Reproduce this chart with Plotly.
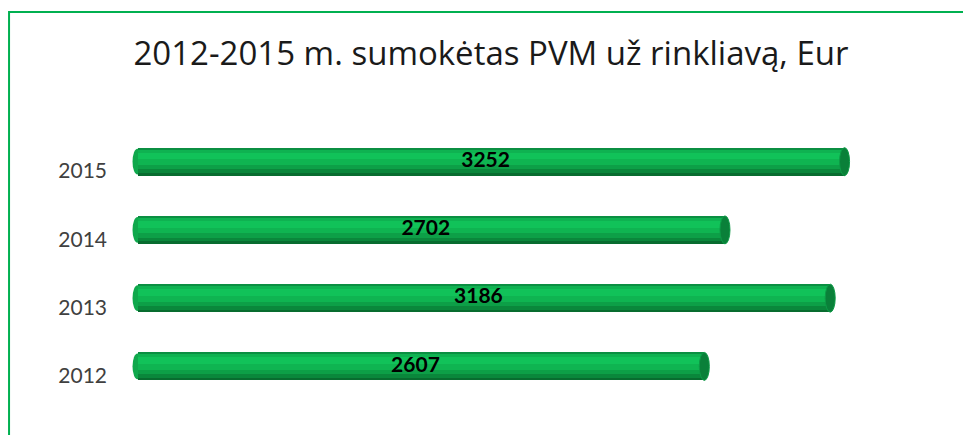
import plotly.graph_objects as go

years = ["2012", "2013", "2014", "2015"]
values = [2607, 3186, 2702, 3252]
title_text = "2012-2015 m. sumokėtas PVM už rinkliavą, Eur"

pos = list(range(len(years)))

W = 0.41          # bar thickness in category units
SHIFT = 0.139     # 3D lift of bar above the category label
BOTTOM = SHIFT - W / 2

# vertical shading layers (fraction from bottom, fraction to, colour), drawn in order
bands = [
    (0.00, 1.00, "#0b8f42"),
    (0.00, 0.93, "#0fb251"),
    (0.00, 0.82, "#11c259"),
    (0.00, 0.58, "#0fb451"),
    (0.00, 0.38, "#0d9f47"),
    (0.00, 0.22, "#0a873b"),
    (0.00, 0.09, "#086c2f"),
]

fig = go.Figure()

CAP = 23  # half-width of the end ellipse in value units
shapes = []
for p, v in zip(pos, values):
    # rounded left end
    shapes.append(dict(type="circle", xref="x", yref="y", layer="below",
                       x0=-CAP, x1=CAP, y0=p + BOTTOM + W * 0.04, y1=p + BOTTOM + W * 0.96,
                       fillcolor="#0fa84c", line=dict(width=0)))

for f0, f1, col in bands:
    fig.add_trace(go.Bar(
        x=values, y=pos, orientation="h",
        width=[W * (f1 - f0)] * len(pos),
        offset=[BOTTOM + W * f0] * len(pos),
        marker=dict(color=col, line=dict(width=0)),
        hoverinfo="skip", showlegend=False,
    ))

# value labels
fig.add_trace(go.Scatter(
    x=[v / 2 - 25 for v in values], y=[p + SHIFT for p in pos],
    mode="text", text=[str(v) for v in values],
    textfont=dict(family="Lato", size=21, color="#000000", weight="bold"),
    hoverinfo="skip", showlegend=False,
))

for p, v in zip(pos, values):
    # right cap
    shapes.append(dict(type="circle", xref="x", yref="y", layer="above",
                       x0=v - CAP, x1=v + CAP, y0=p + BOTTOM, y1=p + BOTTOM + W,
                       fillcolor="#0a8039", line=dict(width=1, color="#0d9a46")))

# outer green frame (only top and left visible)
shapes.append(dict(type="rect", xref="paper", yref="paper",
                   x0=-0.148, x1=1.3, y0=-0.5, y1=1.458,
                   line=dict(color="#00b050", width=2), fillcolor="rgba(0,0,0,0)",
                   layer="below"))

fig.update_layout(
    width=963, height=435,
    margin=dict(l=131, r=8, t=137, b=25),
    paper_bgcolor="white", plot_bgcolor="white",
    barmode="overlay", bargap=0,
    shapes=shapes,
    title=dict(text=title_text, x=491 / 963, xref="container", xanchor="center",
               y=1 - 53 / 435, yref="container", yanchor="middle",
               font=dict(family="Open Sans", size=33, color="#1a1a1a")),
    xaxis=dict(range=[-30, 3760], visible=False, showgrid=False, zeroline=False),
    yaxis=dict(range=[-0.5, 3.5], tickmode="array", tickvals=pos, ticktext=years,
               showgrid=False, zeroline=False, showline=False, ticks="",
               ticklabelstandoff=23,
               tickfont=dict(family="Lato", size=21, color="#404040")),
)

fig.write_html("out.html",
               config={"displayModeBar": False},
               post_script="document.body.style.margin='0px';document.body.style.overflow='hidden';")
